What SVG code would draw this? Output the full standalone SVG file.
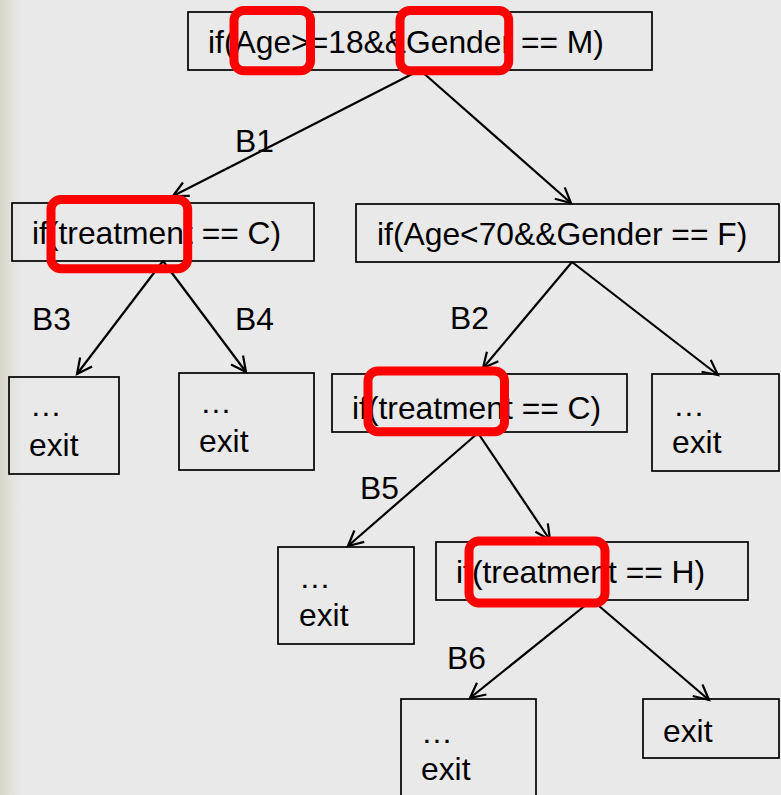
<svg xmlns="http://www.w3.org/2000/svg" width="781" height="795" viewBox="0 0 781 795">
  <defs>
    <linearGradient id="strip" x1="0" y1="0" x2="28" y2="0" gradientUnits="userSpaceOnUse">
      <stop offset="0" stop-color="#d8d5c6"/>
      <stop offset="1" stop-color="#e9e9e8" stop-opacity="0"/>
    </linearGradient>
    <marker id="arr" markerUnits="userSpaceOnUse" markerWidth="40" markerHeight="40" refX="0" refY="0" viewBox="-20 -20 40 40" orient="auto" overflow="visible">
      <path d="M-15,-7.5 L0,0 L-15,7.5" fill="none" stroke="#000" stroke-width="2.2"/>
    </marker>
  </defs>
  <style>
    .box { fill: none; stroke: #000; stroke-width: 1.7; }
    .t { font-family: "Liberation Sans", Arial, sans-serif; font-size: 31.8px; fill: #000; }
    .hl { fill: none; stroke: #ff0000; stroke-width: 9; }
    .c { stroke: #000; stroke-width: 2.2; fill: none; marker-end: url(#arr); }
  </style>
  <rect x="0" y="0" width="781" height="795" fill="#e9e9e9"/>
  <rect x="0" y="0" width="28" height="795" fill="url(#strip)"/>

  <g id="connectors">
    <line class="c" x1="420" y1="70" x2="173" y2="196"/>
    <line class="c" x1="420" y1="70" x2="571" y2="203"/>
    <line class="c" x1="163" y1="261" x2="77" y2="374"/>
    <line class="c" x1="163" y1="261" x2="246" y2="372"/>
    <line class="c" x1="572" y1="262" x2="483" y2="368"/>
    <line class="c" x1="572" y1="262" x2="718" y2="375"/>
    <line class="c" x1="478" y1="433" x2="348" y2="546"/>
    <line class="c" x1="478" y1="433" x2="550" y2="540"/>
    <line class="c" x1="592" y1="600" x2="470" y2="698"/>
    <line class="c" x1="592" y1="600" x2="709" y2="700"/>
  </g>

  <g id="labels">
    <text class="t" x="235" y="152">B1</text>
    <text class="t" x="32" y="330">B3</text>
    <text class="t" x="235" y="330">B4</text>
    <text class="t" x="450" y="329">B2</text>
    <text class="t" x="360" y="499">B5</text>
    <text class="t" x="447" y="669">B6</text>
  </g>

  <g id="n0">
    <rect class="box" x="188" y="12" width="464" height="58"/>
    <text class="t" x="208" y="53">if(Age&gt;=18&amp;&amp;Gender == M)</text>
  </g>
  <g id="n1">
    <rect class="box" x="12" y="203" width="302" height="58"/>
    <text class="t" x="32" y="244">if(treatment == C)</text>
  </g>
  <g id="n2">
    <rect class="box" x="356" y="204" width="423" height="58"/>
    <text class="t" x="377" y="245">if(Age&lt;70&amp;&amp;Gender == F)</text>
  </g>
  <g id="n3">
    <rect class="box" x="9" y="377" width="110" height="97"/>
    <text class="t" x="30" y="416">…</text>
    <text class="t" x="29" y="456">exit</text>
  </g>
  <g id="n4">
    <rect class="box" x="179" y="373" width="135" height="97"/>
    <text class="t" x="200" y="413">…</text>
    <text class="t" x="199" y="452">exit</text>
  </g>
  <g id="n5">
    <rect class="box" x="332" y="374" width="295" height="58"/>
    <text class="t" x="352" y="419">if(treatment == C)</text>
  </g>
  <g id="n6">
    <rect class="box" x="652" y="374" width="127" height="97"/>
    <text class="t" x="673" y="416">…</text>
    <text class="t" x="672" y="453">exit</text>
  </g>
  <g id="n7">
    <rect class="box" x="278" y="547" width="136" height="97"/>
    <text class="t" x="299" y="588">…</text>
    <text class="t" x="299" y="626">exit</text>
  </g>
  <g id="n8">
    <rect class="box" x="436" y="542" width="312" height="58"/>
    <text class="t" x="456" y="583">if(treatment == H)</text>
  </g>
  <g id="n9">
    <rect class="box" x="401" y="699" width="135" height="110"/>
    <text class="t" x="421" y="743">…</text>
    <text class="t" x="421" y="780">exit</text>
  </g>
  <g id="n10">
    <rect class="box" x="643" y="699" width="136" height="59"/>
    <text class="t" x="663" y="742">exit</text>
  </g>

  <g id="highlights">
    <rect class="hl" x="234" y="10.5" width="76.5" height="60.3" rx="10"/>
    <rect class="hl" x="400" y="10.5" width="108.7" height="60.3" rx="10"/>
    <rect class="hl" x="51" y="199.5" width="136.7" height="69.2" rx="10"/>
    <rect class="hl" x="368" y="371" width="136.5" height="60.7" rx="10"/>
    <rect class="hl" x="469" y="541" width="136" height="62" rx="10"/>
  </g>
</svg>
